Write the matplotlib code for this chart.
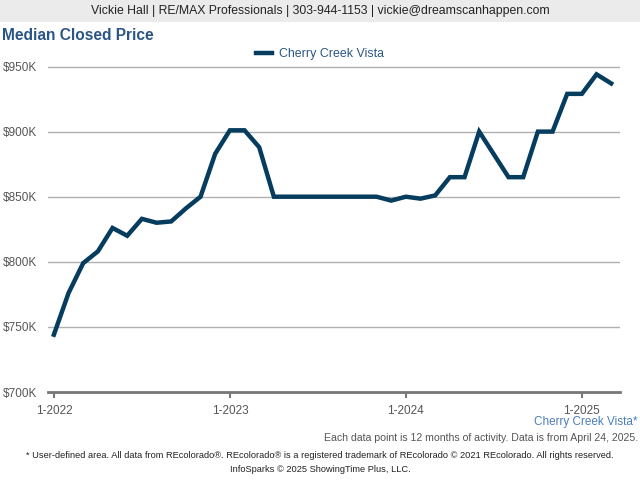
import matplotlib
matplotlib.use("Agg")
import matplotlib.pyplot as plt
from matplotlib.patches import Rectangle
import numpy as np

plt.rcParams['font.family'] = ['Liberation Sans', 'DejaVu Sans']

# monthly points, 1-2022 .. 3-2025, values in $K
months = np.arange(39)
prices = [744, 776, 799, 808, 826, 820, 833, 830, 831, 841, 850, 883, 901, 901,
          888, 850, 850, 850, 850, 850, 850, 850, 850, 847, 850, 848.5, 851,
          865, 865, 900, 882.5, 865, 865, 900, 900, 929, 929, 944, 937]
tick_pos = [0, 12, 24, 36]
tick_labels = ['1-2022', '1-2023', '1-2024', '1-2025']
y_ticks = [700, 750, 800, 850, 900, 950]

line_color = '#063d5e'
title_color = '#2a5685'
text_gray = '#555555'

fig = plt.figure(figsize=(6.4, 4.8), dpi=100)

# header band
fig.patches.append(Rectangle((0, 458 / 480), 1, 22 / 480, transform=fig.transFigure,
                             facecolor='#ebebeb', edgecolor='none', zorder=0))
fig.text(0.5, 469 / 480, 'Vickie Hall | RE/MAX Professionals | 303-944-1153 | vickie@dreamscanhappen.com',
         ha='center', va='center', fontsize=8.8, color='#222222')
fig.text(2 / 640, 445 / 480, 'Median Closed Price', ha='left', va='center',
         fontsize=11.2, fontweight='bold', color=title_color)

ax = fig.add_axes([48 / 640, 88 / 480, 572 / 640, 332 / 480])
ax.plot(months, prices, color=line_color, linewidth=3.2, solid_joinstyle='miter',
        label='Cherry Creek Vista', zorder=3)

ax.set_xlim(-0.4, 38.6)
ax.set_ylim(700, 955)
ax.set_yticks(y_ticks)
ax.set_yticklabels(['$%dK' % v for v in y_ticks])
ax.set_xticks(tick_pos)
ax.set_xticklabels(tick_labels)
ax.grid(axis='y', color='#b0b0b0', linewidth=1)
ax.set_axisbelow(True)

for s in ['top', 'right', 'left']:
    ax.spines[s].set_visible(False)
ax.spines['bottom'].set_color('#777777')
ax.spines['bottom'].set_linewidth(2)
ax.tick_params(axis='y', length=0, labelsize=8.5, labelcolor=text_gray, pad=8)
ax.tick_params(axis='x', length=4, width=1.5, color='#777777', labelsize=8.5,
               labelcolor=text_gray, pad=5)

leg = fig.legend(loc='center', bbox_to_anchor=(0.5, 426 / 480), frameon=False,
                 fontsize=8.9, handlelength=1.3, handletextpad=0.5)
for t in leg.get_texts():
    t.set_color(title_color)

fig.text(638 / 640, 58 / 480, 'Cherry Creek Vista*', ha='right', va='center',
         fontsize=8.5, color='#4a7ebb')
fig.text(638 / 640, 42 / 480, 'Each data point is 12 months of activity. Data is from April 24, 2025.',
         ha='right', va='center', fontsize=7.6, color=text_gray)
fig.text(0.5, 24 / 480, '* User-defined area. All data from REcolorado®. REcolorado® is a registered '
         'trademark of REcolorado © 2021 REcolorado. All rights reserved.',
         ha='center', va='center', fontsize=6.7, color='#222222')
fig.text(0.5, 11 / 480, 'InfoSparks © 2025 ShowingTime Plus, LLC.', ha='center', va='center',
         fontsize=6.7, color='#222222')

fig.savefig('out.png', dpi=100)
